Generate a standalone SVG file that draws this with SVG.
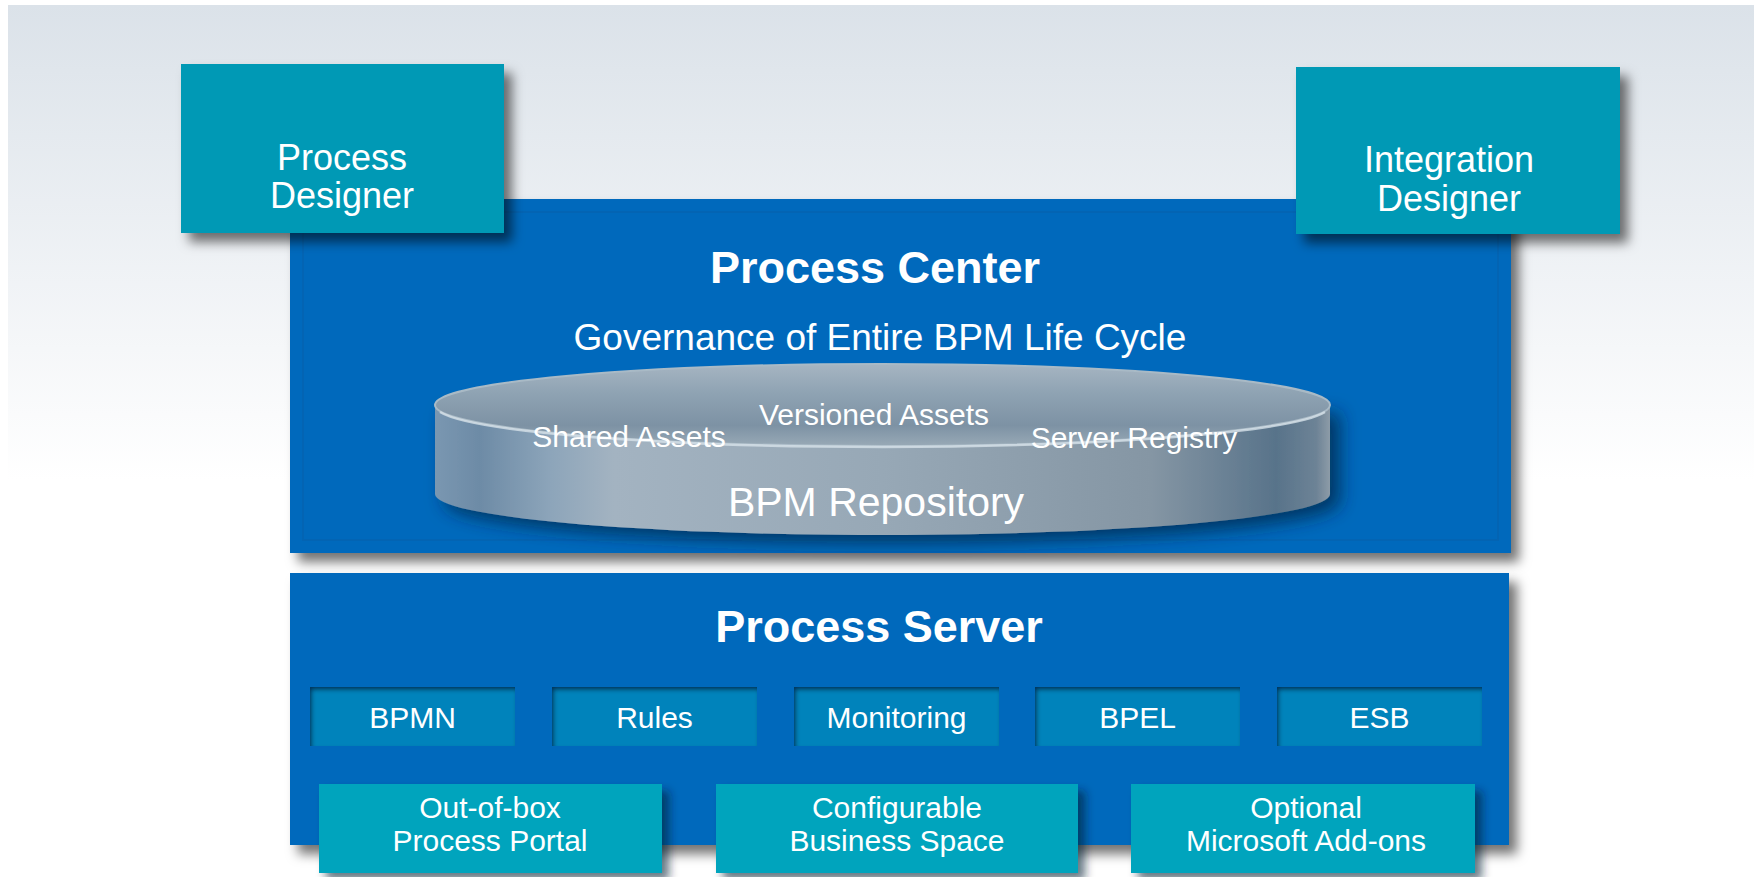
<svg xmlns="http://www.w3.org/2000/svg" width="1754" height="877" viewBox="0 0 1754 877">
  <defs>
    <linearGradient id="bg" x1="0" y1="5" x2="0" y2="480" gradientUnits="userSpaceOnUse">
      <stop offset="0" stop-color="#dbe2e9"/>
      <stop offset="1" stop-color="#ffffff"/>
    </linearGradient>
    <linearGradient id="cylSide" x1="435" y1="0" x2="1330" y2="0" gradientUnits="userSpaceOnUse">
      <stop offset="0" stop-color="#7a97b1"/>
      <stop offset="0.05" stop-color="#6d8ba6"/>
      <stop offset="0.13" stop-color="#8da5ba"/>
      <stop offset="0.2" stop-color="#a3b3c1"/>
      <stop offset="0.5" stop-color="#97a8b6"/>
      <stop offset="0.8" stop-color="#8596a4"/>
      <stop offset="0.94" stop-color="#58738a"/>
      <stop offset="0.985" stop-color="#6d8396"/>
      <stop offset="1" stop-color="#8d9ca8"/>
    </linearGradient>
    <linearGradient id="cylTop" x1="0" y1="364" x2="0" y2="446" gradientUnits="userSpaceOnUse">
      <stop offset="0" stop-color="#a6b5c2"/>
      <stop offset="0.35" stop-color="#8fa3b3"/>
      <stop offset="0.75" stop-color="#7d92a4"/>
      <stop offset="1" stop-color="#98a9b6"/>
    </linearGradient>
    <filter id="drop" x="-10%" y="-10%" width="125%" height="130%">
      <feDropShadow dx="8" dy="9" stdDeviation="6" flood-color="#000000" flood-opacity="0.55"/>
    </filter>
    <filter id="dropSmall" x="-10%" y="-20%" width="125%" height="150%">
      <feDropShadow dx="7" dy="7" stdDeviation="5" flood-color="#001a33" flood-opacity="0.6"/>
    </filter>
    <filter id="cylShadow" x="-10%" y="-30%" width="125%" height="170%">
      <feDropShadow dx="10" dy="8" stdDeviation="9" flood-color="#002040" flood-opacity="0.7"/>
    </filter>
    <filter id="inset" x="-10%" y="-30%" width="120%" height="160%">
      <feFlood flood-color="#00345c" result="c"/>
      <feComposite in="c" in2="SourceAlpha" operator="out" result="inv"/>
      <feGaussianBlur in="inv" stdDeviation="2"/>
      <feOffset dx="2" dy="3" result="off"/>
      <feComposite in="off" in2="SourceAlpha" operator="in" result="sh"/>
      <feMerge><feMergeNode in="SourceGraphic"/><feMergeNode in="sh"/></feMerge>
    </filter>
    <style>
      text { font-family: "Liberation Sans", Arial, sans-serif; fill: #ffffff; text-anchor: middle; }
      .panel { fill: #0569bc; }
      .designer { fill: #0199b5; }
      .tool { fill: #00a4bd; }
      .module { fill: #0383bb; }
      .t36 { font-size: 36px; }
      .t30 { font-size: 30px; }
      .title { font-size: 45px; font-weight: bold; }
    </style>
  </defs>

  <rect x="0" y="0" width="1754" height="877" fill="#ffffff"/>
  <rect x="8" y="5" width="1746" height="872" fill="url(#bg)"/>

  <g id="process-center">
    <rect class="panel" x="290" y="199" width="1221" height="354" filter="url(#drop)"/>
    <rect x="303" y="212" width="1195" height="328" fill="none" stroke="#0560ad" stroke-width="2" opacity="0.6"/>
    <text class="title" x="875" y="283">Process Center</text>
    <text style="font-size:37px" x="880" y="350">Governance of Entire BPM Life Cycle</text>
  </g>

  <g id="process-server">
    <rect class="panel" x="290" y="573" width="1219" height="272" filter="url(#drop)"/>
    <text class="title" x="879" y="642">Process Server</text>
  </g>

  <g id="process-designer">
    <rect class="designer" x="181" y="64" width="323" height="169" filter="url(#drop)"/>
    <text class="t36" x="342" y="170">Process</text>
    <text class="t36" x="342" y="208">Designer</text>
  </g>

  <g id="integration-designer">
    <rect class="designer" x="1296" y="67" width="324" height="167" filter="url(#drop)"/>
    <text class="t36" x="1449" y="172">Integration</text>
    <text class="t36" x="1449" y="211">Designer</text>
  </g>

  <g id="bpm-repository">
    <path d="M435,405 V494 A447.5,41 0 0 0 1330,494 V405 Z" fill="url(#cylSide)" filter="url(#cylShadow)"/>
    <ellipse cx="882.5" cy="405" rx="447.5" ry="41" fill="url(#cylTop)" stroke="#a9bac6" stroke-width="2"/>
    <path d="M440,412 A447.5,41 0 0 0 1325,412" fill="none" stroke="#d6e1e8" stroke-width="2.5" opacity="0.8"/>
    <text class="t30" x="629" y="447">Shared Assets</text>
    <text class="t30" x="874" y="425">Versioned Assets</text>
    <text class="t30" x="1134" y="448">Server Registry</text>
    <text style="font-size:41px" x="876" y="516">BPM Repository</text>
  </g>

  <g id="bpmn">
    <rect class="module" x="310" y="687" width="205" height="59" filter="url(#inset)"/>
    <text class="t30" x="412.5" y="728">BPMN</text>
  </g>
  <g id="rules">
    <rect class="module" x="552" y="687" width="205" height="59" filter="url(#inset)"/>
    <text class="t30" x="654.5" y="728">Rules</text>
  </g>
  <g id="monitoring">
    <rect class="module" x="794" y="687" width="205" height="59" filter="url(#inset)"/>
    <text class="t30" x="896.5" y="728">Monitoring</text>
  </g>
  <g id="bpel">
    <rect class="module" x="1035" y="687" width="205" height="59" filter="url(#inset)"/>
    <text class="t30" x="1137.5" y="728">BPEL</text>
  </g>
  <g id="esb">
    <rect class="module" x="1277" y="687" width="205" height="59" filter="url(#inset)"/>
    <text class="t30" x="1379.5" y="728">ESB</text>
  </g>

  <g id="process-portal">
    <rect class="tool" x="319" y="784" width="343" height="89" filter="url(#dropSmall)"/>
    <text class="t30" x="490" y="818">Out-of-box</text>
    <text class="t30" x="490" y="851">Process Portal</text>
  </g>
  <g id="business-space">
    <rect class="tool" x="716" y="784" width="362" height="89" filter="url(#dropSmall)"/>
    <text class="t30" x="897" y="818">Configurable</text>
    <text class="t30" x="897" y="851">Business Space</text>
  </g>
  <g id="microsoft-addons">
    <rect class="tool" x="1131" y="784" width="344" height="89" filter="url(#dropSmall)"/>
    <text class="t30" x="1306" y="818">Optional</text>
    <text class="t30" x="1306" y="851">Microsoft Add-ons</text>
  </g>

  <g id="connectors"/>
</svg>
